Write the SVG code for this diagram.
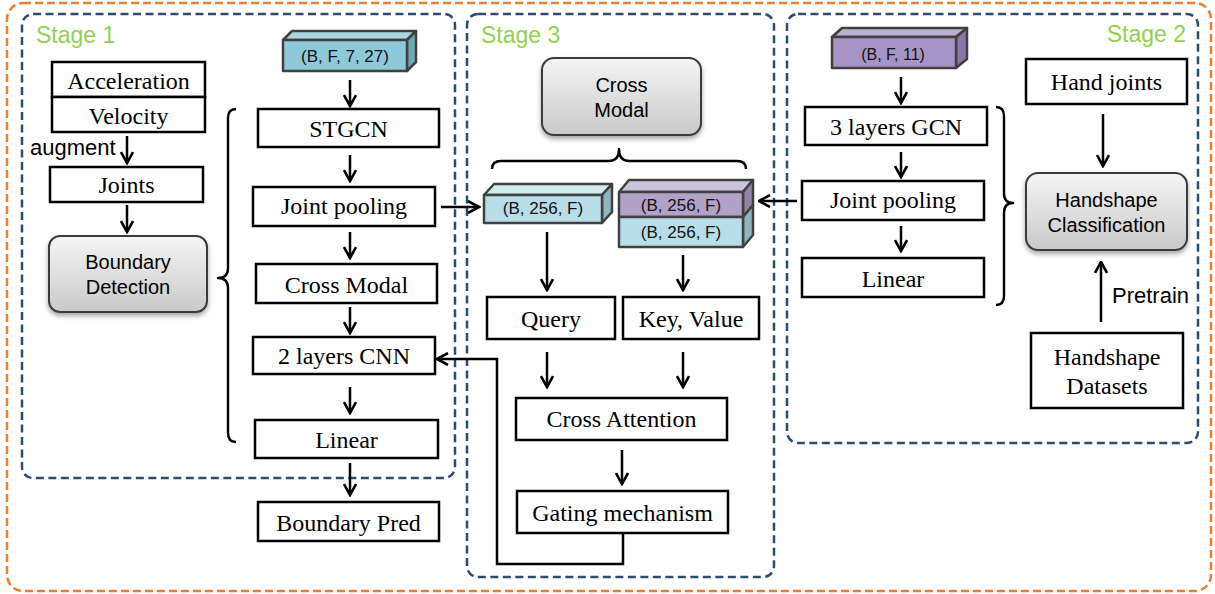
<svg xmlns="http://www.w3.org/2000/svg" width="1215" height="594" viewBox="0 0 1215 594">
<defs>
<marker id="ah" viewBox="0 0 14 14" refX="12.5" refY="7" markerWidth="14" markerHeight="14" markerUnits="userSpaceOnUse" orient="auto">
<path d="M1.5,1 L12.5,7 L1.5,13" fill="none" stroke="#000" stroke-width="2.6" stroke-linejoin="miter"/>
</marker>
<linearGradient id="gr" x1="0" y1="0" x2="0" y2="1">
<stop offset="0" stop-color="#f5f5f5"/>
<stop offset="1" stop-color="#c9c9c9"/>
</linearGradient>
<filter id="sh" x="-10%" y="-10%" width="120%" height="130%">
<feDropShadow dx="0" dy="3" stdDeviation="2.5" flood-color="#000" flood-opacity="0.35"/>
</filter>
<style>
.box{fill:#fff;stroke:#000;stroke-width:2.5}
.rbox{fill:url(#gr);stroke:#3a3a3a;stroke-width:2;filter:url(#sh)}
.ser{font-family:"Liberation Serif","Times New Roman",serif;font-size:24px;fill:#000;text-anchor:middle}
.san{font-family:"Liberation Sans",Arial,sans-serif;font-size:20px;fill:#000;text-anchor:middle}
.lbl{font-family:"Liberation Sans",Arial,sans-serif;font-size:22px;fill:#000}
.dim{font-family:"Liberation Sans",Arial,sans-serif;font-size:17px;fill:#111;text-anchor:middle}
.stg{font-family:"Liberation Sans",Arial,sans-serif;font-size:23px;fill:#92D050}
.cube{stroke:#404040;stroke-width:2.5;stroke-linejoin:round}
.arr{fill:none;stroke:#000;stroke-width:2.5;marker-end:url(#ah)}
.brace{fill:none;stroke:#000;stroke-width:2.4;stroke-linejoin:round}
.outer{fill:none;stroke:#ED7D31;stroke-width:2.5;stroke-dasharray:8 4}
.stage{fill:none;stroke:#2F4B6E;stroke-width:2.5;stroke-dasharray:8 4.5}
</style>
</defs>
<rect width="1215" height="594" fill="#fff"/>

<g id="frames">
<rect class="outer" x="7" y="3" width="1204" height="588" rx="16"/>
<rect class="stage" x="22" y="14" width="433" height="464" rx="11"/>
<rect class="stage" x="467" y="14" width="307" height="563" rx="11"/>
<rect class="stage" x="787" y="14" width="411" height="429" rx="11"/>
<text class="stg" x="36" y="43">Stage 1</text>
<text class="stg" x="481" y="43">Stage 3</text>
<text class="stg" x="1186" y="42" text-anchor="end">Stage 2</text>
</g>

<g id="connectors">
<path class="arr" d="M127,136 V163"/>
<path class="arr" d="M127,205 V232"/>
<path class="arr" d="M350,80 V106"/>
<path class="arr" d="M350,155 V181"/>
<path class="arr" d="M350,232 V258"/>
<path class="arr" d="M350,307 V333"/>
<path class="arr" d="M350,387 V413"/>
<path class="arr" d="M350,463 V495"/>
<path class="arr" d="M441,207 H479"/>
<path class="arr" d="M797,201 H759"/>
<path class="arr" d="M547,232 V290"/>
<path class="arr" d="M683,255 V290"/>
<path class="arr" d="M547,352 V387"/>
<path class="arr" d="M683,352 V387"/>
<path class="arr" d="M622,450 V484"/>
<path class="arr" d="M623,534 V564 H497 V359 H437"/>
<path class="arr" d="M901,77 V103"/>
<path class="arr" d="M901,152 V177"/>
<path class="arr" d="M901,226 V251"/>
<path class="arr" d="M1103,114 V166"/>
<path class="arr" d="M1101,322 V262"/>
<path class="brace" d="M236,109 Q228,109 228,118 L228,268 Q228,278 218,278 Q228,278 228,288 L228,433 Q228,442 236,442"/>
<path class="brace" d="M492,169 Q492,161 501,161 L609,161 Q619,161 619,149 Q619,161 629,161 L737,161 Q746,161 746,169"/>
<path class="brace" d="M996,107 Q1004,107 1004,116 L1004,193 Q1004,203 1013,203 Q1004,203 1004,213 L1004,296 Q1004,305 996,305"/>
<text class="lbl" x="30" y="155">augment</text>
<text class="lbl" x="1112" y="303">Pretrain</text>
</g>

<g id="acceleration">
<rect class="box" x="52" y="62" width="153" height="35"/>
<text class="ser" x="128.5" y="89">Acceleration</text>
</g>
<g id="velocity">
<rect class="box" x="52" y="97" width="153" height="35"/>
<text class="ser" x="128.5" y="124">Velocity</text>
</g>
<g id="joints">
<rect class="box" x="50" y="167" width="153" height="35"/>
<text class="ser" x="126.5" y="193">Joints</text>
</g>
<g id="boundary-detection">
<rect class="rbox" x="49" y="236" width="158" height="76" rx="11"/>
<text class="san" x="128" y="269">Boundary</text>
<text class="san" x="128" y="294">Detection</text>
</g>

<g id="input-bf727">
<polygon class="cube" fill="#A9D7E3" points="283,40 292,31 416,31 407,40"/>
<polygon class="cube" fill="#6FA9B9" points="407,40 416,31 416,62 407,71"/>
<rect class="cube" fill="#8DC9D9" x="283" y="40" width="124" height="31"/>
<text class="dim" x="345" y="62">(B, F, 7, 27)</text>
</g>
<g id="stgcn">
<rect class="box" x="258" y="109" width="181" height="38"/>
<text class="ser" x="348.5" y="137">STGCN</text>
</g>
<g id="joint-pooling-1">
<rect class="box" x="253" y="187" width="182" height="39"/>
<text class="ser" x="344" y="214">Joint pooling</text>
</g>
<g id="cross-modal-1">
<rect class="box" x="256" y="264" width="181" height="39"/>
<text class="ser" x="346.5" y="293">Cross Modal</text>
</g>
<g id="cnn">
<rect class="box" x="253" y="337" width="182" height="37"/>
<text class="ser" x="344" y="364">2 layers CNN</text>
</g>
<g id="linear-1">
<rect class="box" x="255" y="420" width="183" height="38"/>
<text class="ser" x="346.5" y="448">Linear</text>
</g>
<g id="boundary-pred">
<rect class="box" x="258" y="502" width="181" height="39"/>
<text class="ser" x="348.5" y="531">Boundary Pred</text>
</g>

<g id="cross-modal-3">
<rect class="rbox" x="542" y="58" width="159" height="77" rx="12"/>
<text class="san" x="621.5" y="92">Cross</text>
<text class="san" x="621.5" y="117">Modal</text>
</g>
<g id="feat-query">
<polygon class="cube" fill="#D2EBF1" points="484,195 494,184 612,184 602,195"/>
<polygon class="cube" fill="#8FB5BE" points="602,195 612,184 612,212 602,223"/>
<rect class="cube" fill="#B7DEE8" x="484" y="195" width="118" height="28"/>
<text class="dim" x="543" y="214">(B, 256, F)</text>
</g>
<g id="feat-kv">
<polygon class="cube" fill="#CDC2DB" points="619,192 629,180 753,180 743,192"/>
<polygon class="cube" fill="#9383A8" points="743,192 753,180 753,205 743,217"/>
<polygon class="cube" fill="#8FB5BE" points="743,217 753,205 753,235 743,247"/>
<rect class="cube" fill="#B3A2C7" x="619" y="192" width="124" height="25"/>
<rect class="cube" fill="#B7DEE8" x="619" y="217" width="124" height="30"/>
<text class="dim" x="681" y="211">(B, 256, F)</text>
<text class="dim" x="681" y="238">(B, 256, F)</text>
</g>
<g id="query">
<rect class="box" x="487" y="297" width="128" height="42"/>
<text class="ser" x="551" y="327">Query</text>
</g>
<g id="key-value">
<rect class="box" x="623" y="297" width="136" height="42"/>
<text class="ser" x="691" y="327">Key, Value</text>
</g>
<g id="cross-attention">
<rect class="box" x="516" y="398" width="211" height="42"/>
<text class="ser" x="621.5" y="427">Cross Attention</text>
</g>
<g id="gating">
<rect class="box" x="517" y="491" width="211" height="42"/>
<text class="ser" x="622.5" y="521">Gating mechanism</text>
</g>

<g id="input-bf11">
<polygon class="cube" fill="#BBAED3" points="832,37 842,28 967,28 956,37"/>
<polygon class="cube" fill="#8A77A8" points="956,37 967,28 967,59 956,68"/>
<rect class="cube" fill="#A694C6" x="832" y="37" width="124" height="31"/>
<text class="dim" x="893" y="60" style="font-size:16px">(B, F, 11)</text>
</g>
<g id="gcn">
<rect class="box" x="805" y="107" width="182" height="38"/>
<text class="ser" x="896" y="135">3 layers GCN</text>
</g>
<g id="joint-pooling-2">
<rect class="box" x="802" y="181" width="182" height="39"/>
<text class="ser" x="893" y="208">Joint pooling</text>
</g>
<g id="linear-2">
<rect class="box" x="802" y="258" width="182" height="39"/>
<text class="ser" x="893" y="287">Linear</text>
</g>
<g id="hand-joints">
<rect class="box" x="1026" y="59" width="161" height="45"/>
<text class="ser" x="1106.5" y="90">Hand joints</text>
</g>
<g id="handshape-classification">
<rect class="rbox" x="1026" y="173" width="161" height="77" rx="12"/>
<text class="san" x="1106.5" y="207">Handshape</text>
<text class="san" x="1106.5" y="232">Classification</text>
</g>
<g id="handshape-datasets">
<rect class="box" x="1031" y="333" width="152" height="75"/>
<text class="ser" x="1107" y="365">Handshape</text>
<text class="ser" x="1107" y="394">Datasets</text>
</g>
</svg>
